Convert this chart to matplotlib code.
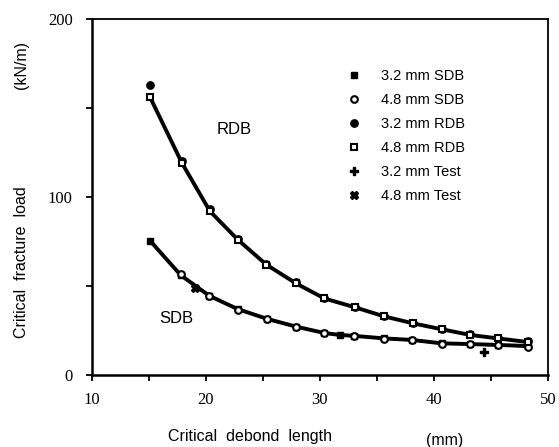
import matplotlib
matplotlib.use("Agg")
import matplotlib.pyplot as plt

# data
rdb_x = [15.1, 17.9, 20.35, 22.8, 25.3, 27.9, 30.4, 33.1, 35.6, 38.2, 40.7, 43.2, 45.6, 48.3]
rdb48_y = [156, 119, 92, 76, 62, 51.5, 43, 38, 33, 29, 25.7, 22.5, 20.6, 18.5]
rdb32_y = [163, 120, 93, 76.5, 62.5, 52, 43.5, 38.3, 33.2, 29.2, 26, 23, 21, 19]
sdb32_x = [15.1, 17.8, 20.3, 22.8, 25.4, 27.9, 30.4, 31.75, 33.0, 35.6, 38.1, 40.7, 43.2, 45.6, 48.3]
sdb32_y = [75.4, 56, 44.5, 37, 31.5, 27.2, 23.6, 22.5, 22, 20.6, 19.7, 17.8, 17.4, 16.9, 16.3]
sdb48_x = [17.8, 20.3, 22.8, 25.4, 27.9, 30.4, 33.0, 35.6, 38.1, 40.7, 43.2, 45.6, 48.3]
sdb48_y = [56.5, 44.2, 36.8, 31.2, 27, 23.4, 22.2, 20.4, 19.5, 17.6, 17.2, 16.6, 16]
test32_x = [44.4]
test32_y = [13]
test48_x = [19.0]
test48_y = [48.7]
xticks = [10, 20, 30, 40, 50]
yticks = [0, 100, 200]

fig = plt.figure(figsize=(5.59, 4.47), dpi=100)
ax = fig.add_axes([0.1646, 0.161, 0.8154, 0.7965])

lw = 2.8
ax.plot(rdb_x, rdb48_y, color='black', lw=lw, zorder=2)
ax.plot(sdb32_x, sdb32_y, color='black', lw=lw, zorder=2)
ax.plot(sdb48_x, sdb48_y, color='black', lw=1.5, zorder=2)

ms = 4.8
ax.plot(sdb32_x, sdb32_y, ls='none', marker='s', ms=ms, mfc='black', mec='black', label='3.2 mm SDB', zorder=3)
ax.plot(sdb48_x, sdb48_y, ls='none', marker='o', ms=ms, mfc='white', mec='black', mew=1.5, label='4.8 mm SDB', zorder=3)
ax.plot(rdb_x, rdb32_y, ls='none', marker='o', ms=ms + 0.5, mfc='black', mec='black', label='3.2 mm RDB', zorder=3)
ax.plot(rdb_x, rdb48_y, ls='none', marker='s', ms=ms, mfc='white', mec='black', mew=1.5, label='4.8 mm RDB', zorder=3)
ax.plot(test32_x, test32_y, ls='none', marker='P', ms=ms + 0.5, mfc='black', mec='black', label='3.2 mm Test', zorder=3)
ax.plot(test48_x, test48_y, ls='none', marker='X', ms=ms + 0.5, mfc='black', mec='black', label='4.8 mm Test', zorder=3)

ax.set_xlim(10, 50)
ax.set_ylim(0, 200)
ax.set_xticks(xticks)
ax.set_xticks([15, 25, 35, 45], minor=True)
ax.set_yticks(yticks)
ax.set_yticks([50, 150], minor=True)
ax.tick_params(which='both', direction='out', length=4, width=1.3, color='black')
ax.tick_params(axis='x', pad=8)
ax.tick_params(axis='y', pad=10)
for lab in ax.get_xticklabels() + ax.get_yticklabels():
    lab.set_fontfamily('Liberation Serif')
    lab.set_fontsize(12)
for side in ['left', 'bottom']:
    ax.spines[side].set_linewidth(1.8)
for side in ['right', 'top']:
    ax.spines[side].set_linewidth(1.3)

leg = ax.legend(loc='upper left', bbox_to_anchor=(0.55, 0.876), frameon=False,
                prop={'family': 'Liberation Sans', 'size': 10.5},
                handlelength=0.8, handletextpad=1.45, labelspacing=0.69, borderaxespad=0)

ax.text(22.5, 138, 'RDB', fontsize=12, family='Liberation Sans', ha='center', va='center')
ax.text(17.4, 32, 'SDB', fontsize=12, family='Liberation Sans', ha='center', va='center')

fig.text(250 / 559, 1 - 437 / 447, 'Critical  debond  length', fontsize=11.5,
         family='Liberation Sans', ha='center', va='center')
fig.text(445 / 559, 1 - 440 / 447, '(mm)', fontsize=11.5,
         family='Liberation Sans', ha='center', va='center')
fig.text(22 / 559, 1 - 262 / 447, 'Critical  fracture  load', fontsize=11.5,
         family='Liberation Sans', ha='center', va='center', rotation=90)
fig.text(22 / 559, 1 - 65 / 447, '(kN/m)', fontsize=11.5,
         family='Liberation Sans', ha='center', va='center', rotation=90)

fig.savefig('out.png', dpi=100)
